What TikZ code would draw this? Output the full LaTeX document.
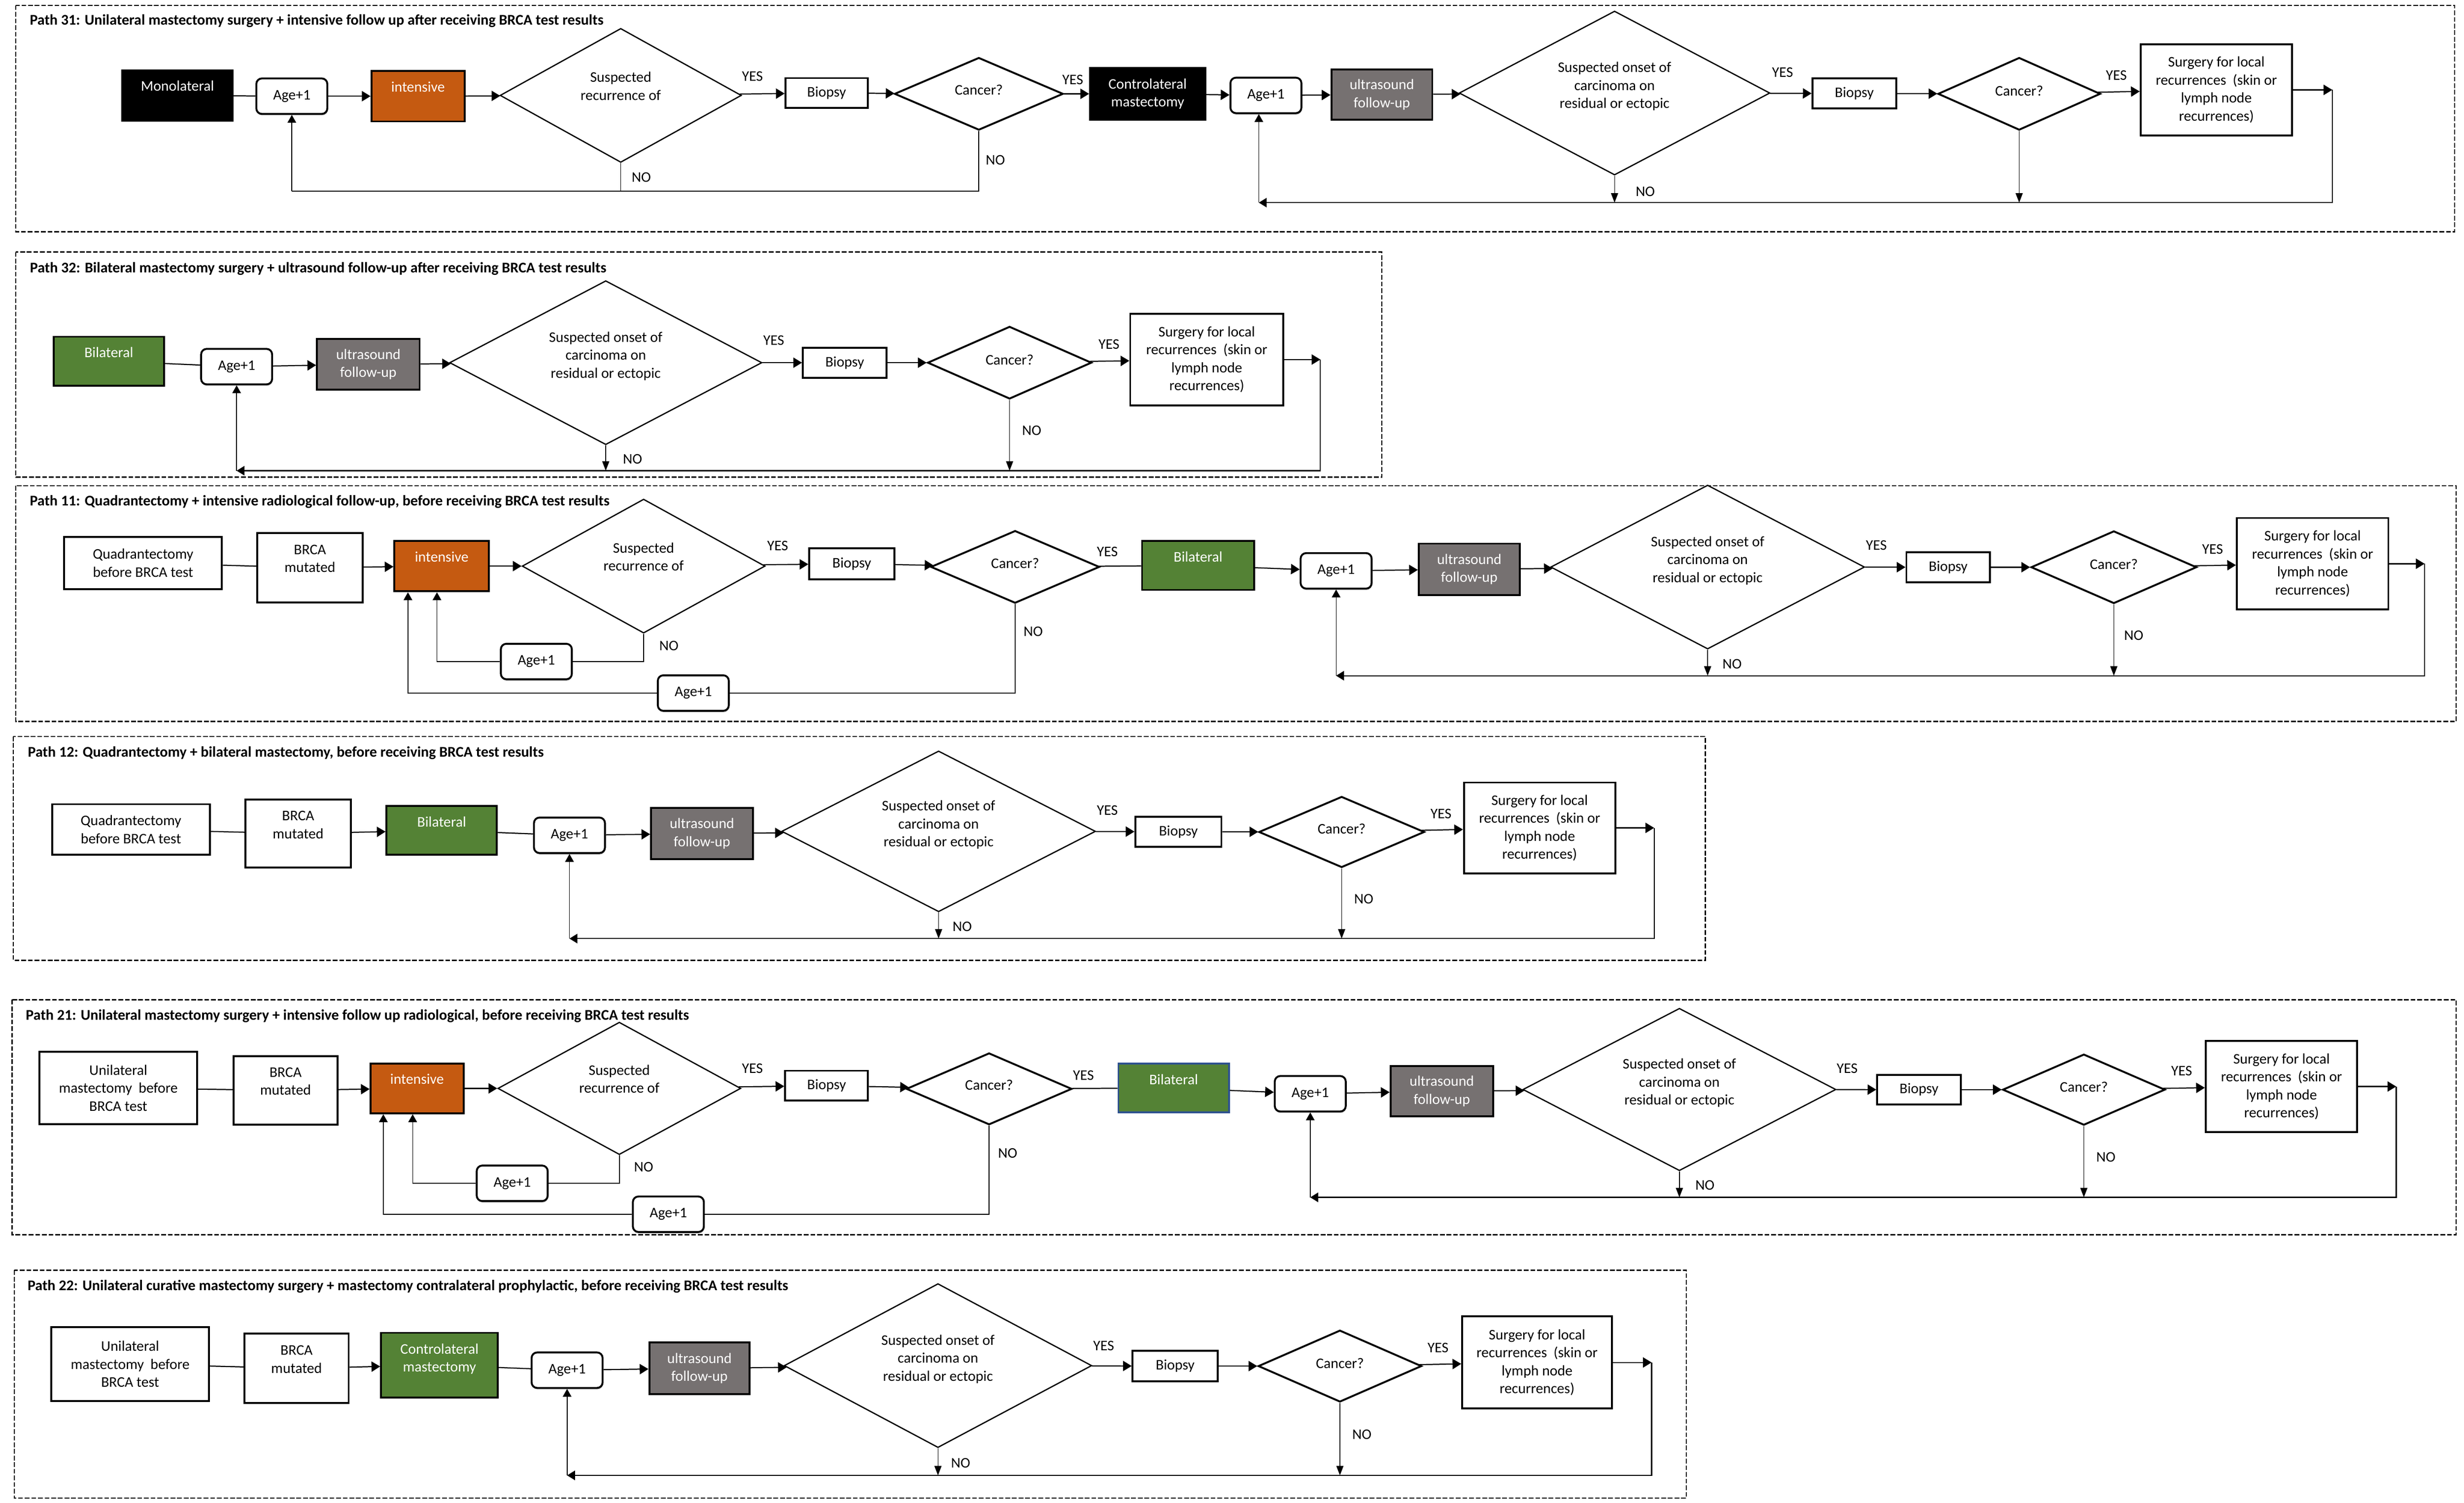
\documentclass[tikz,border=0pt]{standalone}
\usepackage{fontspec}
\setmainfont{Carlito}
\usetikzlibrary{arrows.meta,shapes.geometric,shadows}
\definecolor{intorange}{HTML}{C55A11}
\definecolor{usgray}{HTML}{767171}
\definecolor{bilgreen}{HTML}{548235}
\definecolor{bordblue}{HTML}{2F528F}
\newcommand\uptext[2]{\raisebox{#1}[\height][\depth]{\begin{tabular}{@{}c@{}}#2\end{tabular}}}
\newcommand\onsettxt{\uptext{4pt}{Suspected onset of\\carcinoma on\\residual or ectopic}}
\newcommand\recurtxt{\uptext{5pt}{Suspected\\recurrence of}}
\newcommand\surgtxt{Surgery for local\\recurrences\ \ (skin or\\lymph node\\recurrences)}
\tikzset{
  every node/.style={font=\fontsize{9.3}{11.4}\selectfont},
  sz/.style 2 args={minimum width=#1pt,minimum height=#2pt},
  procbox/.style={draw,line width=1.2pt,fill=white,align=center,inner sep=1pt},
  blackbox/.style={procbox,fill=black,text=white},
  orangebox/.style={procbox,fill=intorange,text=white},
  graybox/.style={procbox,fill=usgray,text=white},
  greenbox/.style={procbox,fill=bilgreen,text=white},
  agebox/.style={procbox,rounded corners=3.5pt,sz={45}{22.5},
    drop shadow={shadow xshift=0.3pt,shadow yshift=-1pt,opacity=0.45}},
  bigdia/.style={diamond,draw,fill=white,line width=0.8pt,inner sep=0pt,aspect=2,align=center},
  candia/.style={bigdia,line width=1.2pt},
  frm/.style={draw,line width=0.8pt,dash pattern=on 3pt off 1.2pt},
  ttl/.style={anchor=west,inner sep=0pt,font=\bfseries\fontsize{9.4}{11}\selectfont},
  yesno/.style={inner sep=0pt},
  plainln/.style={line width=0.7pt},
  loopln/.style={line width=0.5pt},
  flowarr/.style={line width=0.7pt,-{Triangle[length=5.5pt,width=6.5pt]}},
  backarr/.style={line width=0.7pt,-{Triangle[length=5pt,width=6pt]}},
  droparr/.style={line width=0.45pt,-{Triangle[length=6pt,width=4.5pt]}},
  risearr/.style={line width=0.5pt,-{Triangle[length=5pt,width=5.5pt]}}
}
\begin{document}
\begin{tikzpicture}[x=1pt,y=-1pt]
\useasboundingbox[fill=white] (0,0) rectangle (1562,953);

% Path 31
\draw[frm] (10,3.4) rectangle (1556,147);
\node[ttl] (t31) at (18.7,13.2) {Path 31: Unilateral mastectomy surgery + intensive follow up after receiving BRCA test results};
\node[blackbox,sz={70}{32}] (mono) at (112.5,60.5) {\uptext{5pt}{Monolateral}};
\node[agebox] (a31) at (185,61) {Age+1};
\node[orangebox,sz={59}{32}] (i31) at (265,61) {\uptext{5pt}{intensive}};
\node[bigdia,sz={153}{85}] (d31) at (393.5,60.5) {\recurtxt};
\node[procbox,sz={52}{19}] (b31) at (524,59) {Biopsy};
\node[candia,sz={107}{46}] (c31) at (620.5,59.5) {\uptext{1.5pt}{Cancer?}};
\node[blackbox,sz={73}{33}] (m31) at (727.5,59.5) {Controlateral\\mastectomy};
\node[agebox] (a31r) at (802.5,60.5) {Age+1};
\node[graybox,sz={64}{32}] (u31) at (876,60) {ultrasound\\follow-up};
\node[bigdia,sz={197}{104}] (o31) at (1023.5,59) {\onsettxt};
\node[procbox,sz={53}{19}] (b31r) at (1175.5,59.3) {Biopsy};
\node[candia,sz={103}{46}] (c31r) at (1280,59.5) {\uptext{1pt}{Cancer?}};
\node[procbox,sz={96}{58}] (s31) at (1405,57) {\surgtxt};
\coordinate (e31) at (1478.5,57);
\coordinate (k31) at (798,128.5);
\coordinate (n31) at (185,121.3);
\draw[plainln] (mono) -- (a31);
\foreach \p/\q in {a31/i31,i31/d31,d31/b31,b31/c31,c31/m31,m31/a31r,a31r/u31,u31/o31,o31/b31r,b31r/c31r,c31r/s31,s31/e31}
  \draw[flowarr] (\p) -- (\q);
\draw[backarr] (e31) |- (k31);
\draw[risearr] (k31) -- (k31 |- a31r.south);
\draw[droparr] (o31.south) -- (o31.south |- k31);
\draw[droparr] (c31r.south) -- (c31r.south |- k31);
\draw[loopln] (d31.south) -- (d31.south |- n31);
\draw[loopln] (c31.south) |- (n31);
\draw[risearr] (n31) -- (a31.south);
\node[yesno] (y31a) at (477,48.3) {YES};
\node[yesno] (y31b) at (680,50.7) {YES};
\node[yesno] (y31c) at (1130,45.8) {YES};
\node[yesno] (y31d) at (1341.6,47.8) {YES};
\node[yesno] (n31a) at (406.5,112.6) {NO};
\node[yesno] (n31b) at (631,101.4) {NO};
\node[yesno] (n31c) at (1043,121.4) {NO};

% Path 32
\draw[frm] (10,159.8) rectangle (876,302.6);
\node[ttl] (t32) at (18.8,170.3) {Path 32: Bilateral mastectomy surgery + ultrasound follow-up after receiving BRCA test results};
\node[greenbox,sz={70}{31}] (g32) at (69,229) {\uptext{4.5pt}{Bilateral}};
\node[agebox] (a32) at (150,232.5) {Age+1};
\node[graybox,sz={65}{32}] (u32) at (233.5,231) {ultrasound\\follow-up};
\node[bigdia,sz={198}{104}] (o32) at (384,230) {\onsettxt};
\node[procbox,sz={53}{19}] (b32) at (535.5,230) {Biopsy};
\node[candia,sz={104}{46}] (c32) at (640,230) {\uptext{1pt}{Cancer?}};
\node[procbox,sz={97}{58}] (s32) at (765,228) {\surgtxt};
\coordinate (e32) at (837,228);
\coordinate (k32) at (150,298.5);
\draw[plainln] (g32) -- (a32);
\foreach \p/\q in {a32/u32,u32/o32,o32/b32,b32/c32,c32/s32,s32/e32}
  \draw[flowarr] (\p) -- (\q);
\draw[backarr] (e32) |- (k32);
\draw[risearr] (k32) -- (a32.south);
\draw[droparr] (o32.south) -- (o32.south |- k32);
\draw[droparr] (c32.south) -- (c32.south |- k32);
\node[yesno] (y32a) at (490.5,216) {YES};
\node[yesno] (y32b) at (703,218.4) {YES};
\node[yesno] (n32a) at (401,291) {NO};
\node[yesno] (n32b) at (654,273) {NO};

% Path 11
\draw[frm] (10,308) rectangle (1557,457.5);
\node[ttl] (t11) at (18.7,318.2) {Path 11: Quadrantectomy + intensive radiological follow-up, before receiving BRCA test results};
\node[procbox,sz={100}{33}] (q11) at (90.7,357) {Quadrantectomy\\before BRCA test};
\node[procbox,sz={67}{44}] (r11) at (196.5,360) {\uptext{5pt}{BRCA\\mutated}};
\node[orangebox,sz={60}{32}] (i11) at (280,359) {\uptext{5pt}{intensive}};
\node[bigdia,sz={154}{85}] (d11) at (408,359) {\recurtxt};
\node[procbox,sz={54}{19.5}] (b11) at (540,357.5) {Biopsy};
\node[candia,sz={107}{46}] (c11) at (643.5,359.5) {\uptext{1.5pt}{Cancer?}};
\node[greenbox,sz={71}{31}] (g11) at (759.5,358.6) {\uptext{4.5pt}{Bilateral}};
\node[agebox] (a11) at (847,362) {Age+1};
\node[graybox,sz={64}{32.5}] (u11) at (931.4,361) {ultrasound\\follow-up};
\node[bigdia,sz={199}{104}] (o11) at (1082.5,359.6) {\onsettxt};
\node[procbox,sz={53}{19}] (b11r) at (1235,359.7) {Biopsy};
\node[candia,sz={105}{46}] (c11r) at (1340,359.7) {\uptext{1pt}{Cancer?}};
\node[procbox,sz={96}{58}] (s11) at (1466,357.5) {\surgtxt};
\node[agebox] (l11a) at (340,419.5) {Age+1};
\node[agebox] (l11b) at (439.5,439.5) {Age+1};
\coordinate (e11) at (1537,357.5);
\coordinate (k11) at (847,428.5);
\draw[plainln] (q11) -- (r11);
\draw[plainln] (c11) -- (g11);
\foreach \p/\q in {r11/i11,i11/d11,d11/b11,b11/c11,g11/a11,a11/u11,u11/o11,o11/b11r,b11r/c11r,c11r/s11,s11/e11}
  \draw[flowarr] (\p) -- (\q);
\draw[backarr] (e11) |- (k11);
\draw[risearr] (k11) -- (a11.south);
\draw[droparr] (o11.south) -- (o11.south |- k11);
\draw[droparr] (c11r.south) -- (c11r.south |- k11);
\draw[loopln] (d11.south) |- (l11a);
\draw[risearr] (l11a) -| ([xshift=-3pt]i11.south);
\draw[loopln] (c11.south) |- (l11b);
\draw[risearr] (l11b) -| ([xshift=-21.4pt]i11.south);
\node[yesno] (y11a) at (493,346) {YES};
\node[yesno] (y11b) at (702,350) {YES};
\node[yesno] (y11c) at (1189.5,345.8) {YES};
\node[yesno] (y11d) at (1402.6,348.3) {YES};
\node[yesno] (n11a) at (424,409.6) {NO};
\node[yesno] (n11b) at (655,400.6) {NO};
\node[yesno] (n11c) at (1098,421.2) {NO};
\node[yesno] (n11d) at (1352.6,403) {NO};

% Path 12
\draw[frm] (8.5,467) rectangle (1081,609);
\node[ttl] (t12) at (17.5,477.5) {Path 12: Quadrantectomy + bilateral mastectomy, before receiving BRCA test results};
\node[procbox,sz={100}{32}] (q12) at (83,526) {Quadrantectomy\\before BRCA test};
\node[procbox,sz={67}{43}] (r12) at (189,528.6) {\uptext{4.8pt}{BRCA\\mutated}};
\node[greenbox,sz={70}{31}] (g12) at (280,526.6) {\uptext{4.5pt}{Bilateral}};
\node[agebox] (a12) at (361,529.7) {Age+1};
\node[graybox,sz={64.5}{32.5}] (u12) at (445,528.6) {ultrasound\\follow-up};
\node[bigdia,sz={199}{102}] (o12) at (595,527.2) {\onsettxt};
\node[procbox,sz={54.5}{19}] (b12) at (747,527.4) {Biopsy};
\node[candia,sz={105}{45}] (c12) at (850.5,527.6) {\uptext{1pt}{Cancer?}};
\node[procbox,sz={96}{57.5}] (s12) at (976,525) {\surgtxt};
\coordinate (e12) at (1048.6,525);
\coordinate (k12) at (361,595.2);
\draw[plainln] (q12) -- (r12);
\draw[plainln] (g12) -- (a12);
\foreach \p/\q in {r12/g12,a12/u12,u12/o12,o12/b12,b12/c12,c12/s12,s12/e12}
  \draw[flowarr] (\p) -- (\q);
\draw[backarr] (e12) |- (k12);
\draw[risearr] (k12) -- (a12.south);
\draw[droparr] (o12.south) -- (o12.south |- k12);
\draw[droparr] (c12.south) -- (c12.south |- k12);
\node[yesno] (y12a) at (702,514) {YES};
\node[yesno] (y12b) at (913.5,516) {YES};
\node[yesno] (n12a) at (610,587.6) {NO};
\node[yesno] (n12b) at (864.5,570) {NO};

% Path 21
\draw[frm] (7.6,634) rectangle (1557,783);
\node[ttl] (t21) at (16.2,644.3) {Path 21: Unilateral mastectomy surgery + intensive follow up radiological, before receiving BRCA test results};
\node[procbox,sz={100}{46}] (q21) at (75,690) {Unilateral\\mastectomy\ \ before\\BRCA test};
\node[procbox,sz={66}{43.5}] (r21) at (181,691.4) {\uptext{5pt}{BRCA\\mutated}};
\node[orangebox,sz={59}{31.6}] (i21) at (264.4,690.2) {\uptext{5pt}{intensive}};
\node[bigdia,sz={154}{84}] (d21) at (392.6,690.2) {\recurtxt};
\node[procbox,sz={52.5}{19}] (b21) at (524,688.5) {Biopsy};
\node[candia,sz={105}{45.5}] (c21) at (627,690.5) {\uptext{1.5pt}{Cancer?}};
\node[greenbox,draw=bordblue,sz={70}{31}] (g21) at (744,690) {\uptext{4.5pt}{Bilateral}};
\node[agebox] (a21) at (830.6,693.6) {Age+1};
\node[graybox,sz={65}{32}] (u21) at (914,692) {ultrasound\\follow-up};
\node[bigdia,sz={198.5}{103}] (o21) at (1064.6,690.9) {\onsettxt};
\node[procbox,sz={53}{18.7}] (b21r) at (1216.5,691) {Biopsy};
\node[candia,sz={103}{45}] (c21r) at (1321,691) {\uptext{1pt}{Cancer?}};
\node[procbox,sz={96}{58}] (s21) at (1446.3,689) {\surgtxt};
\node[agebox] (l21a) at (324.7,750.4) {Age+1};
\node[agebox] (l21b) at (423.7,770) {Age+1};
\coordinate (e21) at (1519,689);
\coordinate (k21) at (830.6,759.3);
\draw[plainln] (q21) -- (r21);
\draw[plainln] (c21) -- (g21);
\foreach \p/\q in {r21/i21,i21/d21,d21/b21,b21/c21,g21/a21,a21/u21,u21/o21,o21/b21r,b21r/c21r,c21r/s21,s21/e21}
  \draw[flowarr] (\p) -- (\q);
\draw[backarr] (e21) |- (k21);
\draw[risearr] (k21) -- (a21.south);
\draw[droparr] (o21.south) -- (o21.south |- k21);
\draw[droparr] (c21r.south) -- (c21r.south |- k21);
\draw[loopln] (d21.south) |- (l21a);
\draw[risearr] (l21a) -| ([xshift=-2.8pt]i21.south);
\draw[loopln] (c21.south) |- (l21b);
\draw[risearr] (l21b) -| ([xshift=-21.4pt]i21.south);
\node[yesno] (y21a) at (477,677.7) {YES};
\node[yesno] (y21b) at (686.8,681.8) {YES};
\node[yesno] (y21c) at (1171,677.7) {YES};
\node[yesno] (y21d) at (1383,679.2) {YES};
\node[yesno] (n21a) at (408,740.2) {NO};
\node[yesno] (n21b) at (638.8,731.3) {NO};
\node[yesno] (n21c) at (1080.8,751.5) {NO};
\node[yesno] (n21d) at (1335,733.8) {NO};

% Path 22
\draw[frm] (9,805.5) rectangle (1069,950);
\node[ttl] (t22) at (17.3,815.7) {Path 22: Unilateral curative mastectomy surgery + mastectomy contralateral prophylactic, before receiving BRCA test results};
\node[procbox,sz={100}{47}] (q22) at (82.5,865) {Unilateral\\mastectomy\ \ before\\BRCA test};
\node[procbox,sz={66}{44}] (r22) at (188,867.7) {\uptext{5pt}{BRCA\\mutated}};
\node[greenbox,sz={74}{41}] (g22) at (278.6,865.7) {\uptext{3.7pt}{Controlateral\\mastectomy}};
\node[agebox] (a22) at (359.5,868.9) {Age+1};
\node[graybox,sz={63.5}{32.6}] (u22) at (443.4,867.7) {ultrasound\\follow-up};
\node[bigdia,sz={195}{104}] (o22) at (594.6,866) {\onsettxt};
\node[procbox,sz={54}{19.4}] (b22) at (745,866.3) {Biopsy};
\node[candia,sz={103.6}{45.5}] (c22) at (849.4,866.3) {\uptext{1pt}{Cancer?}};
\node[procbox,sz={95}{58.5}] (s22) at (974.4,864) {\surgtxt};
\coordinate (e22) at (1047,864);
\coordinate (k22) at (359.5,935.6);
\draw[plainln] (q22) -- (r22);
\draw[plainln] (g22) -- (a22);
\foreach \p/\q in {r22/g22,a22/u22,u22/o22,o22/b22,b22/c22,c22/s22,s22/e22}
  \draw[flowarr] (\p) -- (\q);
\draw[backarr] (e22) |- (k22);
\draw[risearr] (k22) -- (a22.south);
\draw[droparr] (o22.south) -- (o22.south |- k22);
\draw[droparr] (c22.south) -- (c22.south |- k22);
\node[yesno] (y22a) at (699.6,853.4) {YES};
\node[yesno] (y22b) at (911.6,854.8) {YES};
\node[yesno] (n22a) at (609,927.8) {NO};
\node[yesno] (n22b) at (863.3,909.7) {NO};
\end{tikzpicture}
\end{document}
